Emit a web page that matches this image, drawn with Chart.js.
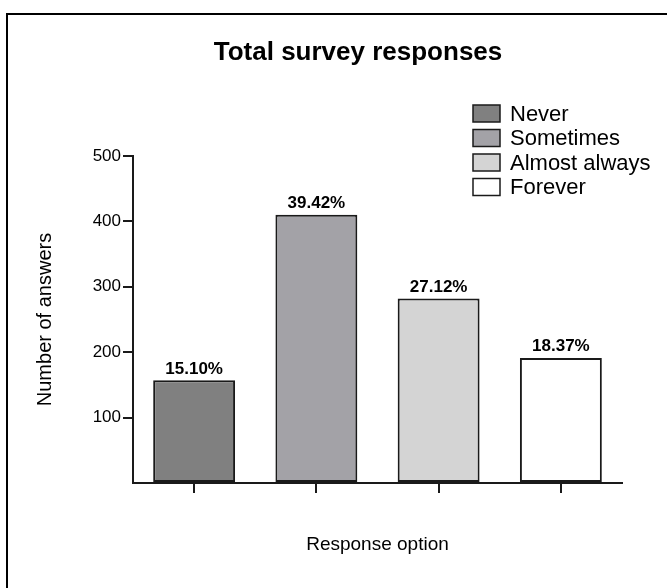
<!DOCTYPE html>
<html>
<head>
<meta charset="utf-8">
<title>Total survey responses</title>
<script src="https://cdn.jsdelivr.net/npm/chart.js@4.4.1/dist/chart.umd.min.js"></script>
<style>
  html, body { margin: 0; padding: 0; background: #ffffff; }
  #wrap { width: 667px; height: 588px; }
</style>
</head>
<body>
<div id="wrap"><canvas id="chart" width="667" height="588"></canvas></div>
<script>
// Response categories and how many answers each one received
const categories = ['Never', 'Sometimes', 'Almost always', 'Forever'];
const answerCounts = [157, 410, 282, 191];
const barColors = ['#808080', '#a3a2a7', '#d4d4d4', '#ffffff'];
const yTickValues = [100, 200, 300, 400, 500];

const FONT = "'Liberation Sans', Arial, Helvetica, sans-serif";
const totalAnswers = answerCounts.reduce((a, b) => a + b, 0);

// White page with the black panel frame
const panelFrame = {
  id: 'panelFrame',
  beforeDraw(chart) {
    const ctx = chart.ctx;
    ctx.save();
    ctx.fillStyle = '#ffffff';
    ctx.fillRect(0, 0, chart.width, chart.height);
    ctx.strokeStyle = '#000000';
    ctx.lineWidth = 2;
    ctx.strokeRect(7, 14, chart.width + 20, chart.height + 20);
    ctx.restore();
  }
};

// Centre the heading across the framed panel rather than the plot
const centerHeading = {
  id: 'centerHeading',
  afterLayout(chart) {
    const t = chart.titleBlock;
    if (t) { t.left = 7; t.right = 709; }
  }
};

// Percentage share printed above every bar
const shareLabels = {
  id: 'shareLabels',
  afterDatasetsDraw(chart) {
    const ctx = chart.ctx;
    const meta = chart.getDatasetMeta(0);
    ctx.save();
    ctx.font = 'bold 17px ' + FONT;
    ctx.fillStyle = '#000000';
    ctx.textAlign = 'center';
    ctx.textBaseline = 'bottom';
    meta.data.forEach((bar, i) => {
      const pct = (answerCounts[i] / totalAnswers * 100).toFixed(2) + '%';
      ctx.fillText(pct, bar.x, bar.y - 3);
    });
    ctx.restore();
  }
};

// Stacked legend in the upper right of the plot
const boxLegend = {
  id: 'boxLegend',
  afterDraw(chart) {
    const ctx = chart.ctx;
    const x = 473, y0 = 113.5, step = 24.5, bw = 27, bh = 17;
    ctx.save();
    ctx.font = '22px ' + FONT;
    ctx.textBaseline = 'middle';
    ctx.textAlign = 'left';
    categories.forEach((name, i) => {
      const cy = y0 + i * step;
      ctx.fillStyle = barColors[i];
      ctx.fillRect(x, cy - bh / 2, bw, bh);
      ctx.strokeStyle = '#1a1a1a';
      ctx.lineWidth = 1.5;
      ctx.strokeRect(x, cy - bh / 2, bw, bh);
      ctx.fillStyle = '#000000';
      ctx.fillText(name, x + 37, cy + 1);
    });
    ctx.restore();
  }
};

new Chart(document.getElementById('chart'), {
  type: 'bar',
  data: {
    labels: categories,
    datasets: [{
      label: 'Number of answers',
      data: answerCounts,
      backgroundColor: barColors,
      borderColor: '#1a1a1a',
      borderWidth: 2,
      borderSkipped: false,
      barPercentage: 0.67,
      categoryPercentage: 1.0
    }]
  },
  options: {
    responsive: false,
    animation: false,
    devicePixelRatio: 1,
    layout: { padding: { top: 0, left: 20, right: 45, bottom: 0 } },
    plugins: {
      legend: { display: false },
      tooltip: { enabled: false },
      title: {
        display: true,
        text: 'Total survey responses',
        color: '#000000',
        font: { family: FONT, size: 26, weight: 'bold' },
        padding: { top: 37.4, bottom: 87.4 }
      }
    },
    scales: {
      x: {
        offset: true,
        afterFit(scale) { scale.height = 105; },
        border: { display: true, color: '#1a1a1a', width: 2 },
        grid: {
          offset: false,
          drawOnChartArea: false,
          drawTicks: true,
          tickLength: 10,
          color: '#1a1a1a',
          lineWidth: 2
        },
        ticks: { display: false },
        title: {
          display: true,
          text: 'Response option',
          color: '#000000',
          font: { family: FONT, size: 19 },
          padding: { top: 0, bottom: 32 }
        }
      },
      y: {
        min: 0,
        max: 500,
        afterFit(scale) { scale.width = 113; },
        afterBuildTicks(scale) {
          scale.ticks = [0].concat(yTickValues).map(v => ({ value: v }));
        },
        border: { display: true, color: '#1a1a1a', width: 2 },
        grid: {
          drawOnChartArea: false,
          drawTicks: true,
          tickLength: 10,
          lineWidth: 2,
          color: (c) => (c.tick && c.tick.value === 0) ? 'rgba(0,0,0,0)' : '#1a1a1a'
        },
        ticks: {
          color: '#000000',
          padding: 2,
          font: { family: FONT, size: 17 },
          callback: (v) => (v === 0 ? '' : String(v))
        },
        title: {
          display: true,
          text: 'Number of answers',
          color: '#000000',
          font: { family: FONT, size: 20 },
          padding: { top: 13, bottom: 0 }
        }
      }
    }
  },
  plugins: [panelFrame, centerHeading, shareLabels, boxLegend]
});
</script>
</body>
</html>
